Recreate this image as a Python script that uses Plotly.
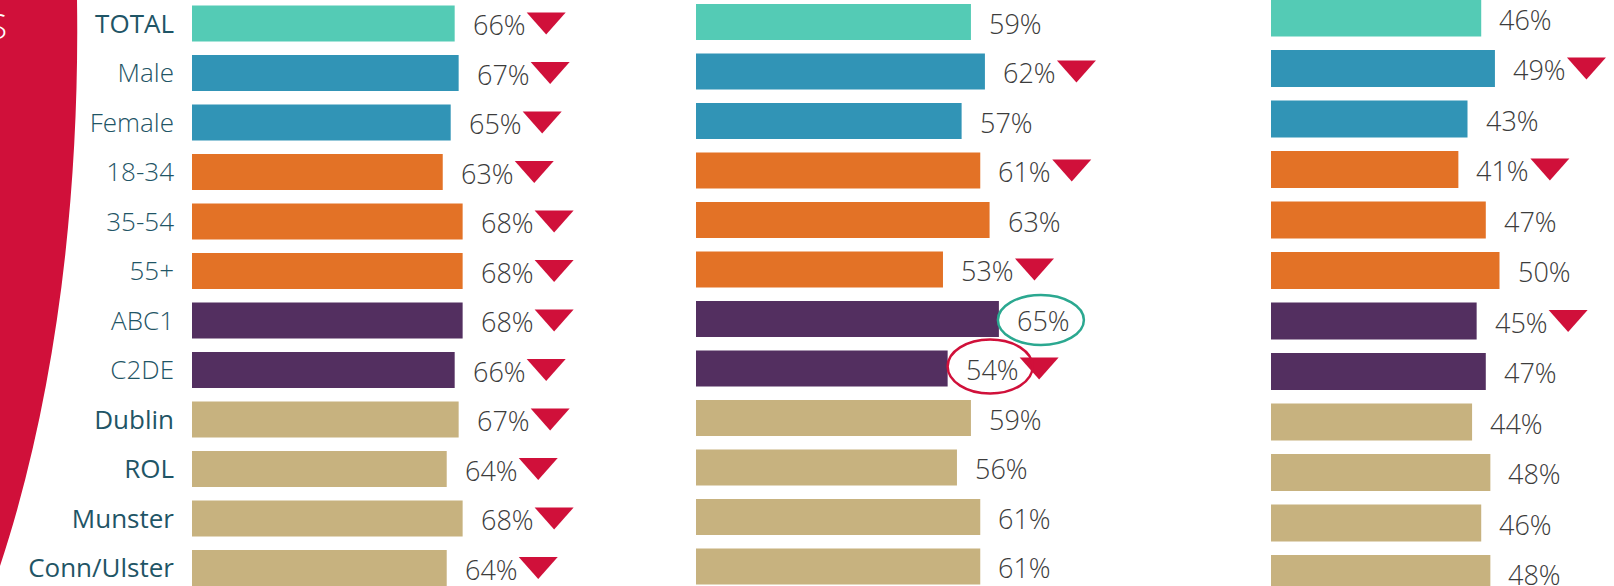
import plotly.graph_objects as go

W, H = 1614, 586

categories = ["TOTAL", "Male", "Female", "18-34", "35-54", "55+",
              "ABC1", "C2DE", "Dublin", "ROL", "Munster", "Conn/Ulster"]
emphasised = ["TOTAL", "Dublin", "ROL", "Munster", "Conn/Ulster"]
groups = ["total", "gender", "gender", "age", "age", "age",
          "class", "class", "region", "region", "region", "region"]

panel1_values = [66, 67, 65, 63, 68, 68, 68, 66, 67, 64, 68, 64]
panel2_values = [59, 62, 57, 61, 63, 53, 65, 54, 59, 56, 61, 61]
panel3_values = [46, 49, 43, 41, 47, 50, 45, 47, 44, 48, 46, 48]

panel1_down = [True] * 12
panel2_down = [False, True, False, True, False, True, False, True, False, False, False, False]
panel3_down = [False, True, False, True, False, False, True, False, False, False, False, False]

panel2_high = ["ABC1"]
panel2_low = ["C2DE"]

group_colors = {"total": "#54CBB5", "gender": "#3194B6", "age": "#E37226",
                "class": "#532F60", "region": "#C7B27F"}
RED = "#D0103A"
TEAL_RING = "#2BA890"
LABEL_COLOR = "#1F5566"
VALUE_COLOR = "#3C3C3C"
FONT = "Open Sans, Segoe UI, sans-serif"

bar_colors = [group_colors[g] for g in groups]
rows = list(range(len(categories)))

fig = go.Figure()

panels = [
    # values, down flags, axis suffix, x0 px, px per %, row0 centre px, row pitch px
    (panel1_values, panel1_down, "", 192, 3.98, 23.5, 49.5),
    (panel2_values, panel2_down, "2", 696, 4.66, 22.0, 49.5),
    (panel3_values, panel3_down, "3", 1271, 4.57, 18.0, 50.5),
]

annotations = []
shapes = []

for values, downs, sfx, x0px, ppu, r0, pitch in panels:
    xa = "x" + sfx
    ya = "y" + sfx
    fig.add_trace(go.Bar(
        x=values, y=rows, orientation="h", xaxis=xa, yaxis=ya,
        marker=dict(color=bar_colors, line=dict(width=0)),
        width=0.73, showlegend=False, hoverinfo="x+y",
    ))
    x_end_px = min(W, x0px + 100 * ppu)
    xr = (x_end_px - x0px) / ppu
    xkey = "xaxis" + sfx
    ykey = "yaxis" + sfx
    fig.layout[xkey] = dict(domain=[x0px / W, x_end_px / W], range=[0, xr],
                            visible=False, anchor=ya, fixedrange=True)
    top = -r0 / pitch
    bottom = (H - r0) / pitch
    yconf = dict(domain=[0, 1], range=[bottom, top], anchor=xa,
                 showgrid=False, zeroline=False, showline=False, fixedrange=True)
    if sfx == "":
        ticktext = [f"<span style='font-weight:400'>{c}</span>" if c in emphasised else c
                    for c in categories]
        yconf.update(tickvals=rows, ticktext=ticktext, ticks="",
                     ticklabelstandoff=17,
                     tickfont=dict(family=FONT, size=26, color=LABEL_COLOR, weight=300))
    else:
        yconf.update(showticklabels=False)
    fig.layout[ykey] = yconf

    for i, v in enumerate(values):
        annotations.append(dict(
            x=v, y=i, xref=xa, yref=ya, text=f"{v}%", showarrow=False,
            xanchor="left", yanchor="middle", xshift=16, yshift=-1,
            font=dict(family=FONT, size=27, color=VALUE_COLOR, weight=300)))
        if downs[i]:
            shapes.append(dict(
                type="path", xref=xa, yref=ya, xsizemode="pixel", ysizemode="pixel",
                xanchor=v, yanchor=i, path="M 72,11 L 111,11 L 91.5,-11 Z",
                fillcolor=RED, line=dict(width=0), layer="above"))

for name in panel2_high:
    i = categories.index(name)
    shapes.append(dict(type="circle", xref="x2", yref="y2", xsizemode="pixel",
                       ysizemode="pixel", xanchor=panel2_values[i], yanchor=i,
                       x0=-1, x1=85, y0=-26, y1=24,
                       line=dict(color=TEAL_RING, width=2.5)))
for name in panel2_low:
    i = categories.index(name)
    shapes.append(dict(type="circle", xref="x2", yref="y2", xsizemode="pixel",
                       ysizemode="pixel", xanchor=panel2_values[i], yanchor=i,
                       x0=0, x1=85, y0=-25, y1=29,
                       line=dict(color=RED, width=2.5)))

def px(x, y):
    return f"{x / W:.5f},{1 - y / H:.5f}"

band = ("M " + px(-5, -5) + " L " + px(77, -5) + " L " + px(77, 0) +
        " C " + px(80, 200) + " " + px(55, 400) + " " + px(0, 566) +
        " L " + px(-5, 566) + " Z")
shapes.append(dict(type="path", xref="paper", yref="paper", path=band,
                   fillcolor=RED, line=dict(width=0), layer="below"))

annotations.append(dict(x=9 / W, y=1 - 26 / H, xref="paper", yref="paper",
                        text="S", showarrow=False, xanchor="right", yanchor="middle",
                        font=dict(family=FONT, size=35, color="white", weight=300)))

fig.update_layout(
    width=W, height=H, margin=dict(l=0, r=0, t=0, b=0),
    paper_bgcolor="white", plot_bgcolor="rgba(0,0,0,0)",
    barmode="overlay", annotations=annotations, shapes=shapes,
    font=dict(family=FONT),
)

fig.write_html("out.html", config={"displayModeBar": False},
               post_script="document.body.style.margin='0';")
